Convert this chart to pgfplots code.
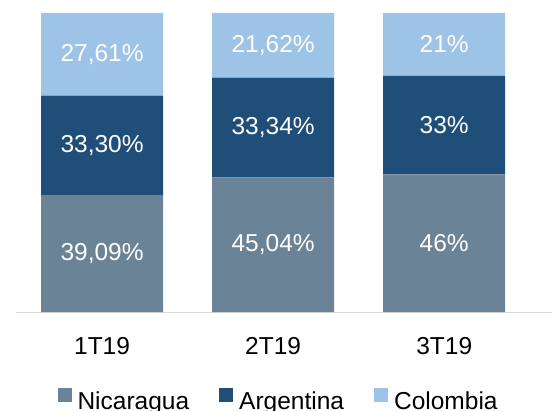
\documentclass[border=0pt]{standalone}
\usepackage{pgfplots}
\pgfplotsset{compat=1.18}
\usepackage{fontspec}
\setmainfont{Liberation Sans}
\definecolor{nic}{RGB}{106,131,150}
\definecolor{arg}{RGB}{31,78,121}
\definecolor{col}{RGB}{157,195,230}
\newcommand{\bigf}{\fontsize{24.5}{29}\selectfont}
\begin{document}
\bigf
\begin{tikzpicture}
\path[use as bounding box] (0,0) rectangle (552pt,410pt);
\begin{axis}[
  at={(16pt,98pt)}, anchor=south west,
  scale only axis, width=536pt, height=299pt,
  xmin=-0.503, xmax=2.63, ymin=0, ymax=100,
  ybar stacked, bar width=122pt,
  axis x line=bottom, axis y line=none,
  x axis line style={-, draw=black!15, line width=1pt},
  xtick={0,1,2}, xticklabels={1T19,2T19,3T19},
  major tick length=0pt, ytick=\empty,
  xticklabel style={anchor=base, yshift=-42pt, font=\bigf},
  legend style={at={(0.488,-0.297)}, anchor=center, legend columns=3,
    draw=none, fill=none, font=\bigf, nodes={inner sep=0pt},
    /tikz/every odd column/.append style={column sep=6pt},
    /tikz/every even column/.append style={column sep=30pt}},
  legend image code/.code={\fill[#1] (0pt,1pt) rectangle (14pt,15pt);},
]
\addplot[fill=nic, draw=none] coordinates {(0,39.09) (1,45.04) (2,46)};
\addplot[fill=arg, draw=none] coordinates {(0,33.30) (1,33.34) (2,33)};
\addplot[fill=col, draw=none] coordinates {(0,27.61) (1,21.62) (2,21)};
\legend{Nicaragua, Argentina, Colombia}
\end{axis}
\begin{axis}[
  at={(16pt,98pt)}, anchor=south west,
  scale only axis, width=536pt, height=299pt,
  xmin=-0.503, xmax=2.63, ymin=0, ymax=100,
  hide axis, clip=false,
  nodes near coords, point meta=explicit symbolic,
  nodes near coords style={anchor=center, text=white, font=\bigf},
]
\addplot[only marks, mark=none] coordinates {(0,19.545) [39,09\%] (1,22.52) [45,04\%] (2,23) [46\%]};
\addplot[only marks, mark=none] coordinates {(0,55.74) [33,30\%] (1,61.71) [33,34\%] (2,62.5) [33\%]};
\addplot[only marks, mark=none] coordinates {(0,86.195) [27,61\%] (1,89.19) [21,62\%] (2,89.5) [21\%]};
\end{axis}
\end{tikzpicture}
\end{document}
